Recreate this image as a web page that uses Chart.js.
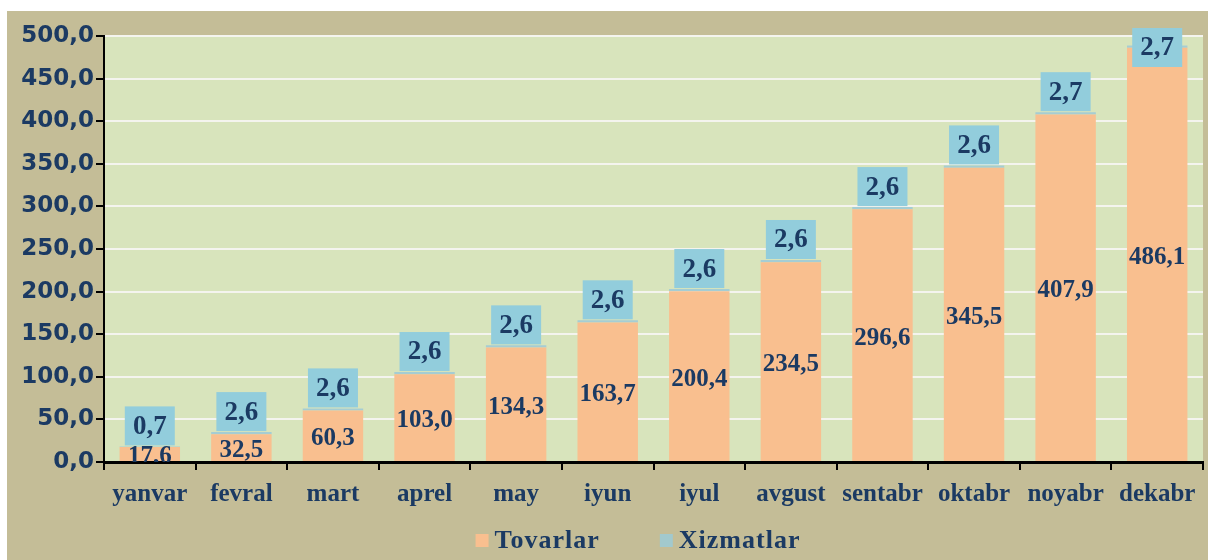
<!DOCTYPE html>
<html>
<head>
<meta charset="utf-8">
<script src="https://cdn.jsdelivr.net/npm/chart.js@4"></script>
<style>
  html, body { margin: 0; padding: 0; background: #fff; }
  #wrap { width: 1208px; height: 560px; position: relative; }
</style>
</head>
<body>
<div id="wrap"><canvas id="chart" width="1208" height="560"></canvas></div>
<script>
// ===== Data =====
const months = ['yanvar', 'fevral', 'mart', 'aprel', 'may', 'iyun', 'iyul', 'avgust', 'sentabr', 'oktabr', 'noyabr', 'dekabr'];
const tovarlar = [17.6, 32.5, 60.3, 103.0, 134.3, 163.7, 200.4, 234.5, 296.6, 345.5, 407.9, 486.1];
const xizmatlar = [0.7, 2.6, 2.6, 2.6, 2.6, 2.6, 2.6, 2.6, 2.6, 2.6, 2.7, 2.7];

const navy = '#1B3A63';
const serif = '"Liberation Serif", "Times New Roman", serif';
const fmt = v => v.toFixed(1).replace('.', ',');

// paint the frame: white edge, beige panel, green plot area
const backdrop = {
  id: 'backdrop',
  beforeDraw(chart) {
    const { ctx, chartArea: a } = chart;
    ctx.save();
    ctx.fillStyle = '#ffffff';
    ctx.fillRect(0, 0, chart.width, chart.height);
    ctx.fillStyle = '#C4BD97';
    ctx.fillRect(7, 11, chart.width - 7, chart.height - 11);
    ctx.fillStyle = '#D8E4BC';
    ctx.fillRect(a.left, a.top, a.right - a.left, a.bottom - a.top);
    ctx.restore();
  }
};

// value labels
const valueLabels = {
  id: 'valueLabels',
  afterDatasetsDraw(chart) {
    const { ctx, chartArea: a } = chart;
    const goods = chart.getDatasetMeta(0).data;
    const serv = chart.getDatasetMeta(1).data;
    ctx.save();
    ctx.textAlign = 'center';
    ctx.textBaseline = 'middle';

    // Tovarlar: centered inside bar, clipped to plot
    ctx.save();
    ctx.beginPath();
    ctx.rect(a.left, a.top, a.right - a.left, a.bottom - a.top);
    ctx.clip();
    ctx.font = 'bold 25px ' + serif;
    ctx.fillStyle = navy;
    goods.forEach((bar, i) => {
      const y = (bar.y + bar.base) / 2 + 3;
      ctx.fillText(fmt(tovarlar[i]), bar.x, y);
    });
    ctx.restore();

    // Xizmatlar: blue box above the stack
    ctx.font = 'bold 27px ' + serif;
    serv.forEach((bar, i) => {
      const w = 50, h = 39;
      let top = bar.y - 1 - h;
      if (top < 28) top = 28;
      ctx.fillStyle = '#92CDDC';
      ctx.fillRect(bar.x - w / 2, top, w, h);
      ctx.fillStyle = navy;
      ctx.fillText(fmt(xizmatlar[i]), bar.x, top + h / 2 + 1);
    });
    ctx.restore();
  }
};

// legend drawn by hand so spacing matches
const bottomLegend = {
  id: 'bottomLegend',
  afterDraw(chart) {
    const { ctx } = chart;
    const sets = chart.data.datasets;
    const box = 13, gap = 6, itemGap = 60, cy = 540, cx = 638;
    ctx.save();
    ctx.font = 'bold 26px ' + serif;
    ctx.letterSpacing = '1px';
    ctx.textBaseline = 'middle';
    ctx.textAlign = 'left';
    const widths = sets.map(s => ctx.measureText(s.label).width);
    const total = widths.reduce((t, w) => t + box + gap + w, 0) + itemGap * (sets.length - 1);
    let x = cx - total / 2;
    sets.forEach((s, i) => {
      ctx.fillStyle = s.legendColor || s.backgroundColor;
      ctx.fillRect(x, cy - 6, box, box);
      ctx.fillStyle = navy;
      ctx.fillText(s.label, x + box + gap, cy + 1);
      x += box + gap + widths[i] + itemGap;
    });
    ctx.restore();
  }
};

new Chart(document.getElementById('chart'), {
  type: 'bar',
  data: {
    labels: months,
    datasets: [
      {
        label: 'Tovarlar',
        data: tovarlar,
        backgroundColor: '#F9BF8F',
        barPercentage: 0.66,
        categoryPercentage: 1
      },
      {
        label: 'Xizmatlar',
        data: xizmatlar,
        backgroundColor: '#A5CDD3',
        legendColor: '#A2C9CD',
        barPercentage: 0.66,
        categoryPercentage: 1
      }
    ]
  },
  options: {
    responsive: false,
    animation: false,
    layout: { padding: { top: 36, right: 5, left: 0, bottom: 46 } },
    plugins: {
      legend: { display: false },
      tooltip: { enabled: false }
    },
    scales: {
      x: {
        stacked: true,
        grid: { drawOnChartArea: false, color: '#000', tickLength: 8, lineWidth: 2 },
        border: { color: '#000', width: 3 },
        ticks: {
          color: navy,
          padding: 10,
          font: { family: serif, size: 25, weight: 'bold' }
        },
        afterFit(scale) { scale.height = 52; }
      },
      y: {
        stacked: true,
        min: 0,
        max: 500,
        grid: { color: '#F4F4EE', lineWidth: 2, tickColor: '#000', tickLength: 8 },
        border: { color: '#000', width: 2 },
        ticks: {
          stepSize: 50,
          color: navy,
          padding: 2,
          font: { family: '"DejaVu Sans", Arial, sans-serif', size: 23, weight: 'bold' },
          callback: v => fmt(v)
        },
        afterFit(scale) { scale.width = 104; }
      }
    }
  },
  plugins: [backdrop, valueLabels, bottomLegend]
});
</script>
</body>
</html>
